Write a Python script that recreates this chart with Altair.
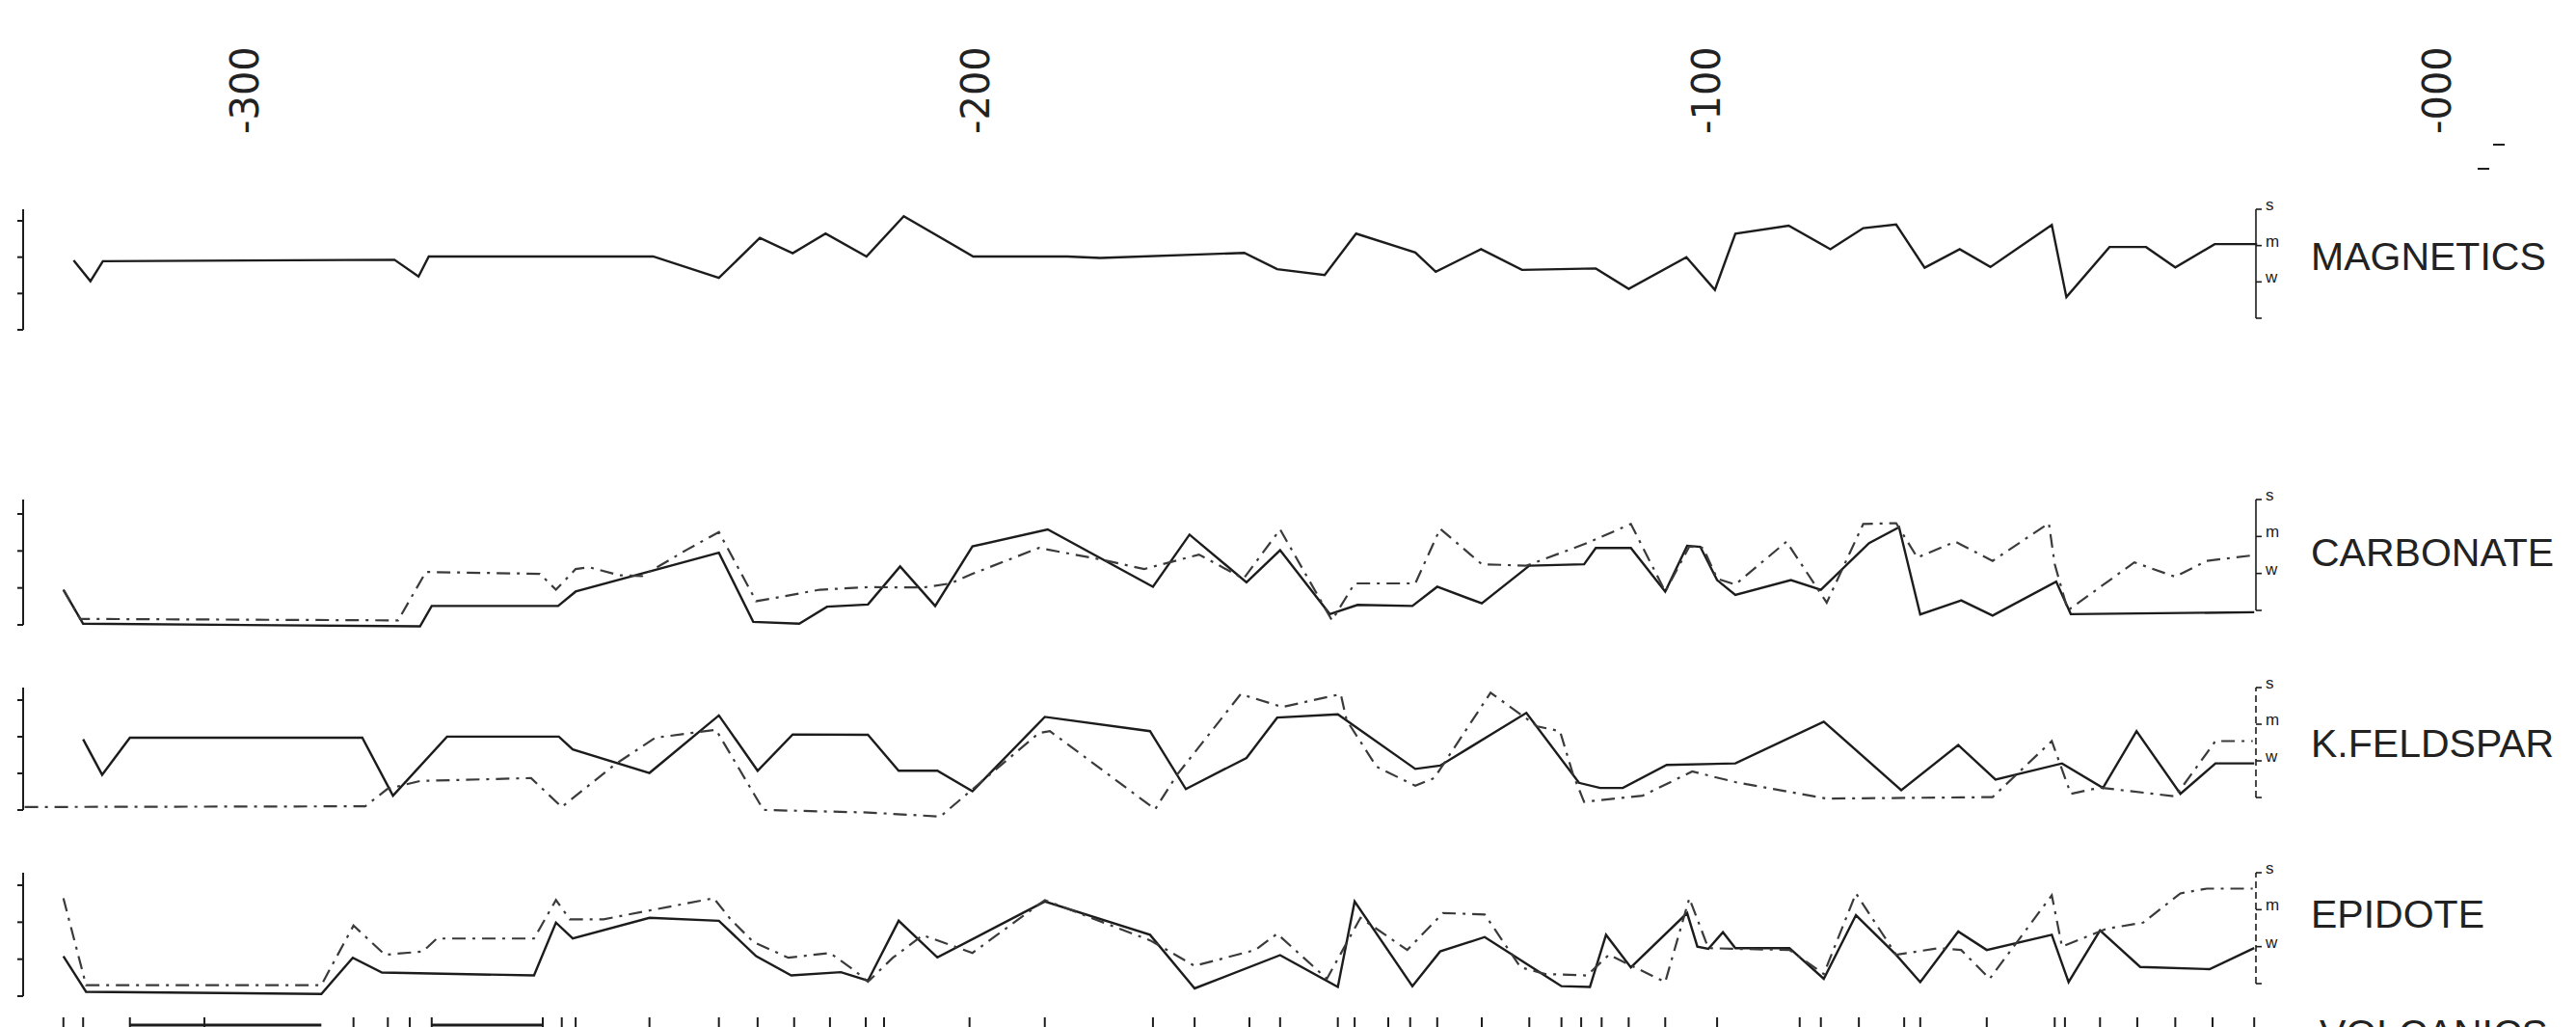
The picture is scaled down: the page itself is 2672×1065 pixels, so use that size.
import altair as alt
import pandas as pd

# ---------------- data (depth in m, response 0=none 1=w 2=m 3=s) ----------------
depth_ticks = [-300, -200, -100, 0]
depth_tick_text = ["-300", "-200", "-100", "-000"]
panel_names = ["MAGNETICS", "CARBONATE", "K.FELDSPAR", "EPIDOTE"]
level_values = [1, 2, 3]
level_text = ["w", "m", "s"]

mag_depth = [-323.7, -321.4, -319.7, -279.8, -276.5, -275.1, -244.4, -235.4, -229.8, -225.3, -220.8,
             -215.2, -210.1, -200.6, -187.7, -183.2, -163.5, -159.0, -152.5, -148.2, -140.1, -137.3,
             -131.1, -125.5, -115.4, -110.9, -103.0, -99.1, -96.3, -89.0, -83.3, -78.8, -74.3, -70.4,
             -65.6, -61.4, -53.0, -51.0, -45.1, -40.1, -36.1, -30.7, -24.9]
mag_val = [1.59, 1.02, 1.57, 1.61, 1.15, 1.70, 1.70, 1.11, 2.21, 1.79, 2.33, 1.70, 2.81, 1.70, 1.70,
           1.66, 1.80, 1.35, 1.19, 2.33, 1.81, 1.28, 1.90, 1.33, 1.37, 0.81, 1.68, 0.78, 2.33, 2.55,
           1.90, 2.48, 2.58, 1.39, 1.90, 1.41, 2.57, 0.58, 1.96, 1.96, 1.40, 2.04, 2.04]

carb_solid_depth = [-325.1, -322.4, -276.3, -274.7, -257.4, -255.0, -235.4, -230.7, -224.4, -220.6,
                    -215.0, -210.6, -205.8, -200.7, -190.4, -176.0, -171.0, -163.2, -158.6, -151.8,
                    -148.0, -140.5, -137.1, -131.0, -124.5, -117.0, -115.4, -110.6, -105.9, -102.9,
                    -101.1, -98.8, -96.3, -88.7, -84.6, -78.0, -73.9, -71.0, -65.4, -61.1, -52.4,
                    -50.4, -25.3]
carb_solid_val = [0.56, -0.36, -0.43, 0.12, 0.12, 0.51, 1.56, -0.31, -0.36, 0.10, 0.16, 1.19, 0.12,
                  1.73, 2.19, 0.64, 2.05, 0.76, 1.63, -0.10, 0.15, 0.12, 0.64, 0.19, 1.21, 1.25, 1.69,
                  1.69, 0.51, 1.75, 1.72, 0.82, 0.42, 0.82, 0.56, 1.82, 2.25, -0.11, 0.27, -0.14,
                  0.78, -0.10, -0.05]
carb_dash_depth = [-325.1, -322.8, -279.3, -275.5, -259.9, -257.7, -255.0, -253.2, -249.0, -245.9,
                   -239.8, -235.4, -230.3, -227.7, -221.6, -215.0, -207.5, -203.7, -200.7, -191.6,
                   -183.2, -177.2, -169.7, -163.6, -158.6, -151.5, -148.4, -140.1, -136.7, -131.0,
                   -124.9, -116.6, -110.6, -105.9, -102.6, -100.7, -98.8, -96.3, -89.3, -83.8, -78.8,
                   -74.3, -71.4, -66.2, -61.1, -53.4, -52.6, -50.8, -41.7, -36.1, -31.8, -25.5]
carb_dash_val = [0.56, -0.23, -0.27, 1.04, 0.99, 0.56, 1.12, 1.17, 0.95, 0.93, 1.64, 2.12, 0.25, 0.34,
                 0.56, 0.63, 0.62, 0.73, 0.99, 1.69, 1.38, 1.12, 1.51, 0.86, 2.19, -0.27, 0.73, 0.73,
                 2.21, 1.25, 1.21, 1.82, 2.34, 0.51, 1.73, 1.69, 0.86, 0.70, 1.86, 0.21, 2.34, 2.36,
                 1.43, 1.86, 1.34, 2.36, 1.25, 0.0, 1.30, 0.91, 1.34, 1.49]

kf_solid_depth = [-322.4, -319.8, -316.0, -284.2, -280.0, -272.6, -257.3, -255.4, -244.9, -235.4,
                  -230.1, -225.3, -215.0, -210.8, -205.5, -200.7, -190.8, -176.4, -171.5, -163.2,
                  -159.0, -150.7, -140.1, -136.7, -124.9, -117.7, -114.8, -111.7, -105.7, -96.3,
                  -84.2, -73.6, -65.8, -60.7, -51.6, -46.0, -41.4, -35.4, -30.6, -25.3]
kf_solid_val = [1.59, 0.62, 1.63, 1.63, 0.05, 1.66, 1.66, 1.31, 0.67, 2.24, 0.73, 1.72, 1.71, 0.73,
                0.73, 0.17, 2.20, 1.81, 0.23, 1.08, 2.18, 2.27, 0.78, 0.87, 2.31, 0.40, 0.26, 0.26,
                0.89, 0.93, 2.07, 0.20, 1.43, 0.49, 0.93, 0.26, 1.81, 0.10, 0.93, 0.93]
kf_dash_depth = [-330.4, -283.8, -280.8, -276.3, -261.1, -256.9, -249.7, -244.1, -235.8, -229.3,
                 -215.0, -205.1, -191.6, -190.1, -175.7, -172.7, -164.0, -158.3, -150.3, -149.5,
                 -145.4, -140.1, -137.5, -129.8, -123.4, -120.3, -118.5, -117.0, -109.0, -102.2,
                 -96.3, -83.8, -61.1, -53.0, -50.4, -46.4, -36.1, -30.6, -25.5]
kf_dash_val = [-0.26, -0.24, 0.23, 0.45, 0.53, -0.26, 0.89, 1.63, 1.85, -0.34, -0.41, -0.52, 1.76,
               1.81, -0.32, 0.62, 2.82, 2.47, 2.82, 2.11, 0.84, 0.32, 0.53, 2.86, 1.94, 1.81, 0.62,
               -0.12, 0.05, 0.71, 0.42, -0.03, 0.01, 1.54, 0.10, 0.27, 0.03, 1.54, 1.54]

epi_solid_depth = [-325.1, -322.0, -289.8, -285.5, -281.5, -260.7, -257.7, -255.4, -244.9, -235.4,
                   -230.3, -225.5, -218.7, -215.0, -210.8, -205.5, -190.8, -176.4, -170.3, -158.6,
                   -150.7, -148.4, -140.5, -136.7, -130.6, -120.1, -116.2, -114.0, -110.6, -102.9,
                   -101.5, -100.0, -98.0, -96.3, -88.9, -84.2, -79.8, -74.3, -71.0, -65.8, -61.9,
                   -53.0, -50.7, -46.4, -40.9, -31.4, -25.3]
epi_solid_val = [0.74, -0.22, -0.28, 0.70, 0.30, 0.22, 1.65, 1.22, 1.78, 1.70, 0.74, 0.22, 0.31, 0.08,
                 1.70, 0.71, 2.22, 1.32, -0.13, 0.77, -0.09, 2.22, -0.07, 0.87, 1.26, -0.07, -0.09,
                 1.32, 0.44, 1.91, 1.00, 0.94, 1.39, 0.96, 0.96, 0.13, 1.85, 0.78, 0.04, 1.41, 0.91,
                 1.32, 0.04, 1.44, 0.45, 0.39, 0.96]
epi_dash_depth = [-325.1, -322.0, -289.8, -285.4, -281.1, -275.9, -274.0, -260.7, -257.7, -255.8,
                  -251.2, -236.1, -233.8, -230.7, -225.9, -220.2, -216.8, -215.0, -211.6, -207.5,
                  -200.7, -190.8, -176.4, -170.3, -162.0, -159.0, -152.2, -147.6, -141.2, -136.3,
                  -130.6, -125.7, -122.3, -116.6, -113.6, -105.9, -102.6, -100.0, -96.3, -88.9,
                  -84.2, -79.8, -74.3, -68.5, -65.4, -61.5, -53.0, -51.6, -45.6, -40.5, -35.4,
                  -31.8, -25.5]
epi_dash_val = [2.31, -0.04, -0.04, 1.57, 0.78, 0.87, 1.22, 1.22, 2.26, 1.74, 1.74, 2.31, 1.74, 1.13,
                0.70, 0.83, 0.35, 0.05, 0.70, 1.31, 0.83, 2.26, 1.17, 0.48, 0.91, 1.35, 0.13, 1.78,
                0.91, 1.91, 1.87, 0.44, 0.26, 0.22, 0.78, 0.04, 2.31, 0.96, 0.94, 0.91, 0.26, 2.44,
                0.78, 0.96, 0.91, 0.13, 2.39, 1.00, 1.48, 1.65, 2.44, 2.57, 2.57]

volc_depth = [-325.1, -322.4, -316.0, -305.8, -285.4, -280.7, -277.7, -274.7, -259.5, -256.9, -255.0,
              -244.9, -235.4, -230.1, -225.1, -220.2, -215.3, -212.8, -201.1, -190.8, -176.0, -170.3,
              -162.8, -158.6, -150.7, -148.4, -143.8, -140.8, -137.1, -131.0, -124.5, -120.1, -117.4,
              -114.6, -110.9, -105.9, -98.8, -87.5, -84.6, -79.4, -73.2, -71.0, -61.9, -52.6, -51.2,
              -46.4, -41.3, -36.1, -31.0, -25.3]
volc_bar_from = [-316.0, -274.7]
volc_bar_to = [-289.8, -259.5]

# ---------------- layout ----------------
W, H = 2656, 1057
xs = alt.Scale(domain=[-332.72, 17.68], range=[0, W], nice=False, zero=False)

# (bottom px, top px, left-bracket offset px, label y px, right-scale dash) per panel
panel_geo = {
    "MAGNETICS": (322, 209, 12, 260, None),
    "CARBONATE": (625, 510, 15, 567, None),
    "K.FELDSPAR": (819, 705, 13, 765, [7, 4]),
    "EPIDOTE": (1012, 897, 13, 942, [7, 4]),
}


def yscale(bottom, top):
    k = 3.0 / (bottom - top)
    d0 = -(H - bottom) * k
    return alt.Scale(domain=[d0, d0 + H * k], range=[H, 0], nice=False, zero=False)


INK = "#1c1c1c"
layers = []


def line_layer(depths, vals, ys, color, width, dash=None):
    df = pd.DataFrame({"depth": depths, "val": vals, "i": list(range(len(depths)))})
    mk = dict(color=color, strokeWidth=width, strokeJoin="miter", strokeCap="butt")
    if dash:
        mk["strokeDash"] = dash
    return alt.Chart(df).mark_line(**mk).encode(
        x=alt.X("depth:Q", scale=xs, axis=None),
        y=alt.Y("val:Q", scale=ys, axis=None),
        order=alt.Order("i:Q"),
    )


series = {
    "MAGNETICS": [(mag_depth, mag_val, None)],
    "CARBONATE": [(carb_solid_depth, carb_solid_val, None), (carb_dash_depth, carb_dash_val, "d")],
    "K.FELDSPAR": [(kf_solid_depth, kf_solid_val, None), (kf_dash_depth, kf_dash_val, "d")],
    "EPIDOTE": [(epi_solid_depth, epi_solid_val, None), (epi_dash_depth, epi_dash_val, "d")],
}

for name in panel_names:
    bottom, top, off, label_y, axis_dash = panel_geo[name]
    ys = yscale(bottom, top)
    lv = pd.DataFrame({"lv": [0, 1, 2, 3]})
    span = pd.DataFrame({"a": [0], "b": [3]})
    # left bracket
    layers.append(alt.Chart(span).mark_rule(color=INK, strokeWidth=2, yOffset=off).encode(
        x=alt.value(16), y=alt.Y("a:Q", scale=ys, axis=None), y2="b:Q"))
    layers.append(alt.Chart(lv).mark_rule(color=INK, strokeWidth=2, yOffset=off).encode(
        x=alt.value(10), x2=alt.value(16), y=alt.Y("lv:Q", scale=ys, axis=None)))
    # right scale
    rk = dict(color=INK, strokeWidth=1.6)
    if axis_dash:
        rk["strokeDash"] = axis_dash
    layers.append(alt.Chart(span).mark_rule(**rk).encode(
        x=alt.value(2332), y=alt.Y("a:Q", scale=ys, axis=None), y2="b:Q"))
    layers.append(alt.Chart(lv).mark_rule(color=INK, strokeWidth=1.6).encode(
        x=alt.value(2332), x2=alt.value(2338), y=alt.Y("lv:Q", scale=ys, axis=None)))
    layers.append(alt.Chart(pd.DataFrame({"lv": level_values, "t": level_text})).mark_text(
        align="left", baseline="middle", fontSize=17, font="Liberation Sans", color=INK, dx=2, dy=-4
    ).encode(x=alt.value(2340), y=alt.Y("lv:Q", scale=ys, axis=None), text="t:N"))
    # curves
    for d, v, kind in series[name]:
        if kind is None:
            layers.append(line_layer(d, v, ys, INK, 2.4))
        else:
            layers.append(line_layer(d, v, ys, "#3a3a3a", 2.2, dash=[14, 7, 3, 7]))
    # panel name
    layers.append(alt.Chart(pd.DataFrame({"t": [name]})).mark_text(
        align="left", baseline="middle", fontSize=41, font="Liberation Sans", color="#222"
    ).encode(x=alt.value(2389), y=alt.value(label_y), text="t:N"))

# depth labels along the top
layers.append(alt.Chart(pd.DataFrame({"d": depth_ticks, "t": depth_tick_text})).mark_text(
    angle=270, align="left", baseline="middle", fontSize=40, font="DejaVu Sans", color="#222"
).encode(x=alt.X("d:Q", scale=xs, axis=None), y=alt.value(131), text="t:N"))

# two small marks beside the -000 label
layers.append(alt.Chart(pd.DataFrame({"a": [2578, 2562], "b": [2590, 2574], "y": [142, 167]})).mark_rule(
    color=INK, strokeWidth=2).encode(x=alt.X("a:Q", scale=None), x2="b:Q", y=alt.Y("y:Q", scale=None)))

# volcanics sample ticks and bars (row is cut by the bottom edge)
layers.append(alt.Chart(pd.DataFrame({"depth": volc_depth})).mark_rule(color=INK, strokeWidth=2).encode(
    x=alt.X("depth:Q", scale=xs, axis=None), y=alt.value(1047), y2=alt.value(1060)))
layers.append(alt.Chart(pd.DataFrame({"a": volc_bar_from, "b": volc_bar_to})).mark_rule(
    color=INK, strokeWidth=3).encode(
    x=alt.X("a:Q", scale=xs, axis=None), x2="b:Q", y=alt.value(1055)))
layers.append(alt.Chart(pd.DataFrame({"t": ["VOLCANICS"]})).mark_text(
    align="left", baseline="alphabetic", fontSize=41, font="Liberation Sans", color="#222"
).encode(x=alt.value(2398), y=alt.value(1078), text="t:N"))

chart = alt.layer(*layers).resolve_scale(y="independent").properties(
    width=W, height=H, autosize=alt.AutoSizeParams(type="none"), padding=0,
    background="white",
).configure_view(strokeWidth=0)

chart.save("out.html", embed_options={"renderer": "svg", "actions": False})
